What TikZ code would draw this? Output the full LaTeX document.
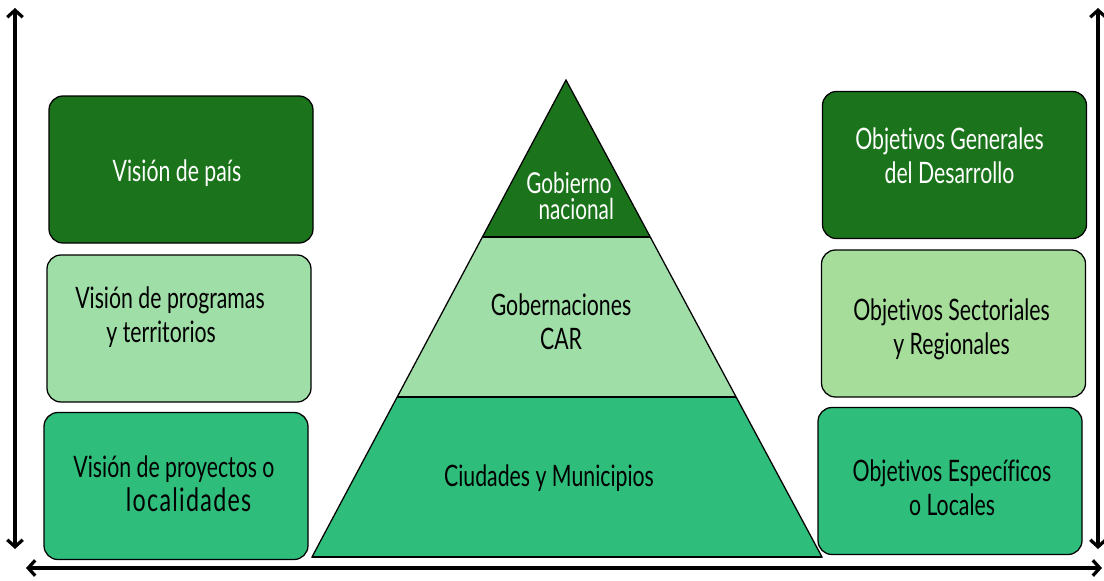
\documentclass[tikz,border=0pt]{standalone}
\usepackage{fontspec}
\setmainfont{Lato}[FakeStretch=0.72,Ligatures={NoCommon}]
\usetikzlibrary{arrows.meta,calc}
\definecolor{darkleaf}{RGB}{27,116,27}
\definecolor{paleleaf}{RGB}{160,222,168}
\definecolor{paleleafr}{RGB}{166,221,155}
\definecolor{midleaf}{RGB}{46,189,122}
\newlength{\du}
\setlength{\du}{0.025cm}
\tikzset{
  box/.style={draw=black,line width=0.9pt,rounded corners=14\du,minimum width=264\du,minimum height=147\du,inner sep=0pt},
  boxtext/.style={align=center,font=\fontsize{21}{24}\selectfont},
  axis/.style={line width=2.3pt,{Straight Barb[length=5pt,width=11pt]}-{Straight Barb[length=5pt,width=11pt]}},
  layer/.style={align=center,font=\fontsize{21}{24}\selectfont},
}
\begin{document}
\begin{tikzpicture}
\pgftransformyscale{-1.000000}
\useasboundingbox (0\du,0\du) rectangle (1104\du,580\du);
% left column
\node[box,fill=darkleaf,label={[boxtext,text=white,xshift=-4\du,yshift=-4\du]center:Visión de país}] (vpais) at (181\du,169.5\du){};
\node[box,fill=paleleaf,label={[boxtext,xshift=-9\du,yshift=11\du]center:Visión de programas\\ \hspace*{-0.6em}y territorios}] (vprog) at (179\du,328.5\du){};
\node[box,fill=midleaf,label={[boxtext,xshift=-2\du,yshift=2\du]center:Visión de proyectos o\\ {\fontsize{23}{27}\selectfont\addfontfeature{LetterSpace=4}\hspace*{0.9em}localidades}}] (vproy) at (176\du,486\du){};
% right column
\node[box,fill=darkleaf,label={[boxtext,text=white,xshift=-5\du,yshift=9\du]center:Objetivos Generales\\del Desarrollo}] (ogen) at (954.5\du,165\du){};
\node[box,fill=paleleafr,label={[boxtext,xshift=-2\du,yshift=-6\du]center:Objetivos Sectoriales\\y Regionales}] (osec) at (953.5\du,323.5\du){};
\node[box,fill=midleaf,label={[boxtext,xshift=2\du,yshift=-7\du]center:Objetivos Específicos\\o Locales}] (oesp) at (950\du,481\du){};
% pyramid
\coordinate (apex) at (566\du,80\du);
\coordinate (bl) at (312\du,557\du);
\coordinate (br) at (822\du,557\du);
\coordinate (al) at ($(apex)!0.329!(bl)$);
\coordinate (ar) at ($(apex)!0.329!(br)$);
\coordinate (ml) at ($(apex)!0.665!(bl)$);
\coordinate (mr) at ($(apex)!0.665!(br)$);
\fill[darkleaf] (apex)--(al)--(ar)--cycle;
\fill[paleleaf] (al)--(ml)--(mr)--(ar)--cycle;
\fill[midleaf] (ml)--(bl)--(br)--(mr)--cycle;
\draw[line width=0.9pt] (apex)--(bl)--(br)--cycle;
\draw[line width=1.6pt] (al)--(ar);
\draw[line width=1.6pt] (ml)--(mr);
\draw[line width=1.6pt] (bl)--(br);
\node[layer,text=white,font=\fontsize{20.5}{19}\selectfont] (gnac) at (569\du,196\du){Gobierno\\ \hspace*{0.5em}nacional};
\node[layer] (gcar) at (561\du,322\du){Gobernaciones\\CAR};
\node[layer] (gmun) at (549\du,478\du){Ciudades y Municipios};
% axes
\coordinate (ltop) at (15\du,8\du);
\coordinate (lbot) at (15\du,549\du);
\coordinate (rtop) at (1098\du,8\du);
\coordinate (rbot) at (1098\du,549\du);
\coordinate (hl) at (26\du,568\du);
\coordinate (hr) at (1102\du,568\du);
\draw[axis] (ltop)--(lbot);
\draw[axis] (rtop)--(rbot);
\draw[axis] (hl)--(hr);
\end{tikzpicture}
\end{document}
